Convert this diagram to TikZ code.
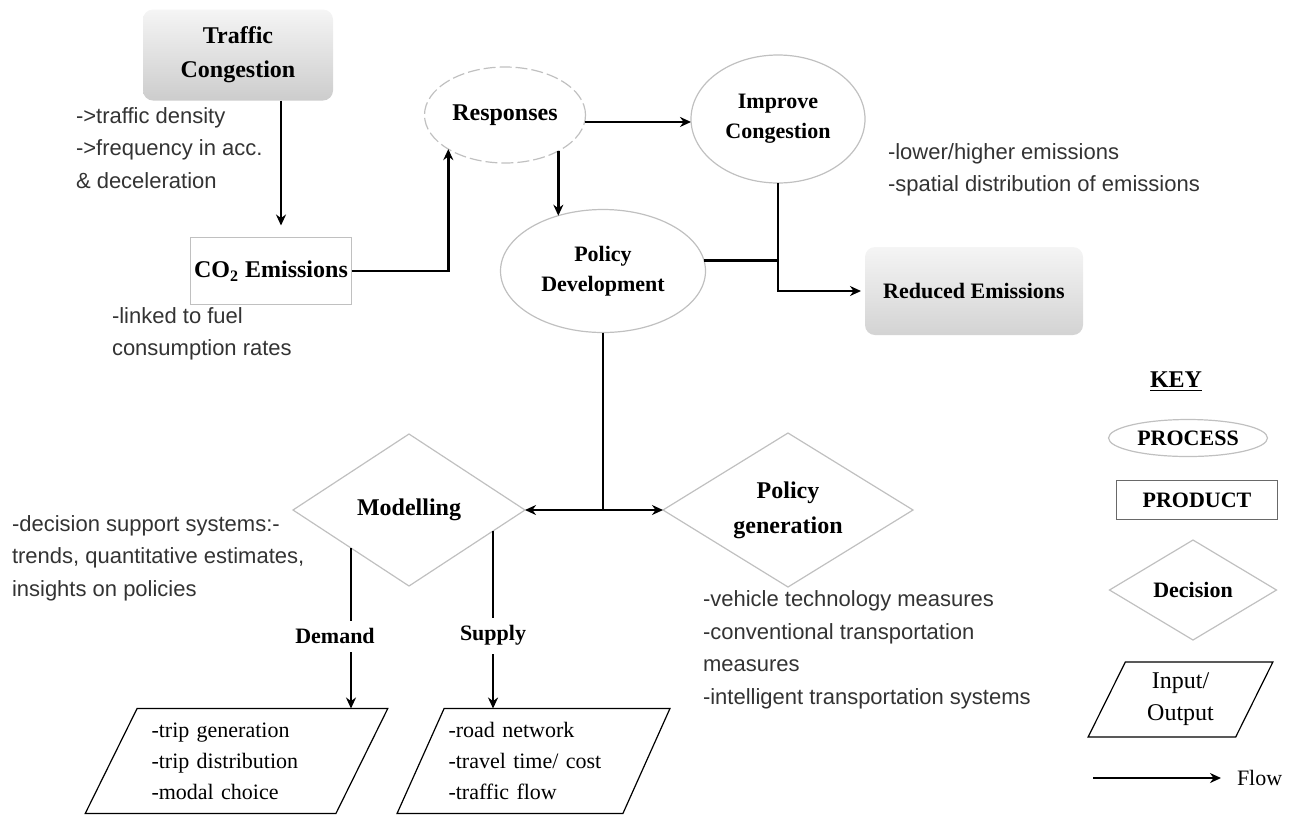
\documentclass[tikz,border=0pt]{standalone}
\usepackage[svgnames]{xcolor}
\usepackage{fontspec}
\setmainfont{Liberation Serif}
\setsansfont{Liberation Sans}
\usetikzlibrary{arrows.meta,shapes.geometric}

\begin{document}
\begin{tikzpicture}[x=0.5pt, y=-0.5pt, line width=1.2pt, >={Stealth[length=5.5pt,width=5pt]},
      every node/.append style={inner sep=0pt, outer sep=0pt, align=center}]
    \tikzstyle{heading} = [font=\fontsize{12}{17}\selectfont\bfseries]
    \tikzstyle{smallheading} = [font=\fontsize{11}{15}\selectfont\bfseries]
    \tikzstyle{process} = [ellipse, draw=Silver, line width=0.6pt, heading]
    \tikzstyle{product} = [rectangle, draw=Silver, line width=0.6pt, heading]
    \tikzstyle{outcome} = [rectangle, rounded corners=5pt, top color=WhiteSmoke, bottom color=LightGray, heading]
    \tikzstyle{decision} = [diamond, aspect=1.6, draw=Silver, line width=0.6pt, heading]
    \tikzstyle{inout} = [trapezium, trapezium left angle=60, trapezium right angle=120, trapezium stretches,
      draw=black, line width=0.6pt, font=\fontsize{11}{15.5}\selectfont]
    \tikzstyle{note} = [anchor=west, align=left, text=black!80, font=\sffamily\fontsize{11}{16.25}\selectfont]
    \tikzstyle{branch} = [fill=white, inner xsep=2pt, inner ysep=4pt, smallheading]
    \useasboundingbox (0,0) rectangle (1295,816);

    % main flow
    \node (traffic) [outcome, bottom color=Silver!80, minimum width=95pt, minimum height=45.5pt] at (238,55) {Traffic\\Congestion};
    \node (co2) [product, minimum width=80.5pt, minimum height=33.5pt] at (271,271) {CO\textsubscript{2} Emissions};
    \node (responses) [process, draw=Silver, dash pattern=on 6pt off 2pt, minimum width=80.5pt, minimum height=48pt] at (505,115) {Responses};
    \node (improve) [process, smallheading, minimum width=87pt, minimum height=64pt] at (778,119) {Improve\\Congestion};
    \node (policy) [process, smallheading, minimum width=102.5pt, minimum height=61.5pt] at (603,271) {Policy\\Development};
    \node (reduced) [outcome, smallheading, minimum width=109pt, minimum height=44pt] at (974,291) {Reduced Emissions};
    \node (modelling) [decision, minimum width=116pt, minimum height=76pt] at (409,510) {Modelling};
    \node (polgen) [decision, font=\fontsize{12}{17.5}\selectfont\bfseries, minimum width=125pt, minimum height=77pt] at (788,510) {Policy\\generation};
    \node (demandio) [inout, minimum width=151.5pt, minimum height=52.5pt, text width=85pt, align=left] at (236.5,761)
      {-trip generation\\-trip distribution\\-modal choice};
    \node (supplyio) [inout, minimum width=136.5pt, minimum height=52.5pt, text width=85pt, align=left] at (533.5,761)
      {-road network\\-travel time/ cost\\-traffic flow};

    % side notes
    \node (trafficnote) [note] at (76,148) {->traffic density\\->frequency in acc.\\\& deceleration};
    \node (co2note) [note] at (112,334) {-linked to fuel\\consumption rates};
    \node (improvenote) [note] at (888,170) {-lower/higher emissions\\-spatial distribution of emissions};
    \node (modelnote) [note] at (12,558) {-decision support systems:-\\trends, quantitative estimates,\\insights on policies};
    \node (polgennote) [note] at (703,650) {-vehicle technology measures\\-conventional transportation\\measures\\-intelligent transportation systems};

    % connectors
    \coordinate (tcout) at ([xshift=21.5pt]traffic.south);
    \draw[->, shorten >=6pt] (tcout) -- (tcout |- co2.north);
    \draw[->] (co2.east) -| (responses.211);
    \draw[->] (responses.-5) -- (responses.-5 -| improve.west);
    \draw[->] (responses.-34) -- (responses.-34 |- policy.129);
    \draw (policy.6) -- (policy.6 -| improve.south);
    \draw[->, shorten >=2pt] (improve.south) |- (reduced.west);
    \coordinate (split) at (policy.south |- modelling.east);
    \draw (policy.south) -- (split);
    \draw[->] (split) -- (modelling.east);
    \draw[->] (split) -- (polgen.west);
    \draw[->] (modelling.south west) -- node[branch, pos=.55, xshift=-8pt] {Demand} (modelling.south west |- demandio.north);
    \draw[->] (modelling.-14) -- node[branch, pos=.59] {Supply} (modelling.-14 |- supplyio.north);

    % key
    \node (keytitle) [heading] at (1176,382) {\underline{KEY}};
    \node (keyprocess) [process, smallheading, minimum width=79.5pt, minimum height=18.5pt] at (1188,438) {PROCESS};
    \node (keyproduct) [product, smallheading, draw=DimGray, minimum width=80.5pt, minimum height=19.5pt] at (1197,500) {PRODUCT};
    \node (keydecision) [decision, smallheading, minimum width=83.5pt, minimum height=50pt] at (1193,590) {Decision};
    \node (keyinout) [inout, trapezium left angle=67, trapezium right angle=113, font=\fontsize{12}{16}\selectfont,
      minimum width=92.5pt, minimum height=37.5pt] at (1180.5,699.5) {Input/\\Output};
    \coordinate (flowstart) at (1093,778);
    \node (flowlabel) [anchor=west, font=\fontsize{11}{13}\selectfont] at (1237,778) {Flow};
    \draw[->, shorten >=8pt] (flowstart) -- (flowlabel.west);
\end{tikzpicture}
\end{document}
